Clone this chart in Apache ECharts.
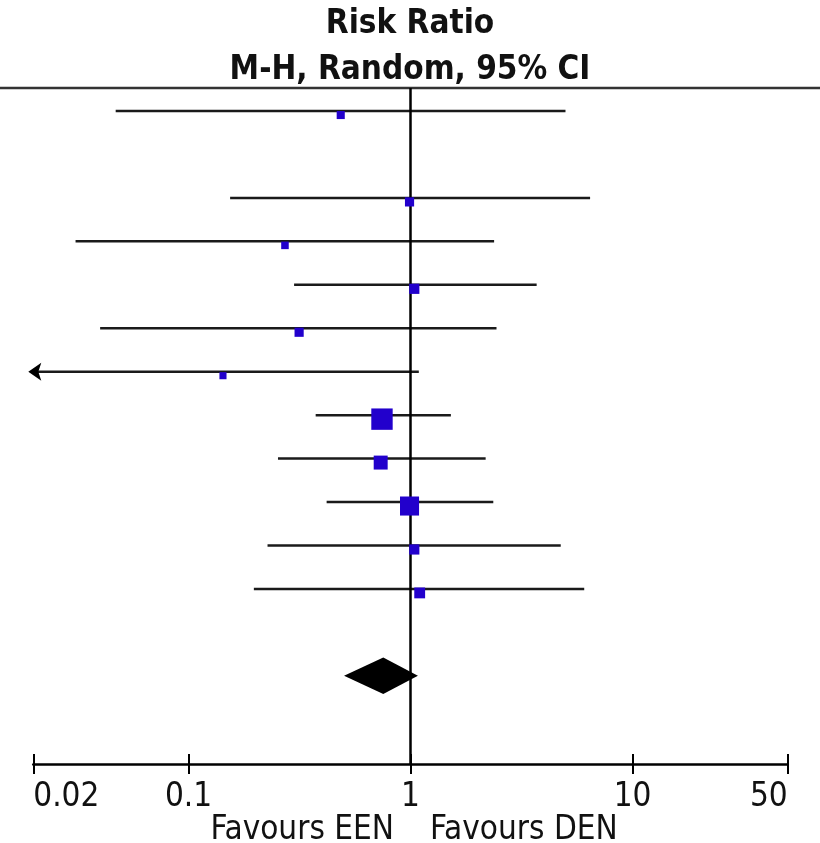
<!DOCTYPE html>
<html>
<head>
<meta charset="utf-8">
<title>Risk Ratio forest plot</title>
<script src="https://cdn.jsdelivr.net/npm/echarts@6/dist/echarts.min.js"></script>
<style>
  html, body { margin: 0; padding: 0; background: #fff; }
  #main { width: 820px; height: 843px; }
</style>
</head>
<body>
<div id="main"></div>
<script>
// study rows, top to bottom (row 2 not estimable)
const rowIndex   = [0, 1, 2, 3, 4, 5, 6, 7, 8, 9, 10, 11];
const riskRatio  = [0.485, null, 0.99, 0.272, 1.04, 0.315, 0.143, 0.744, 0.734, 0.99, 1.04, 1.10];
const ciLower    = [0.047, null, 0.154, 0.031, 0.299, 0.040, 0.019, 0.374, 0.253, 0.419, 0.227, 0.197];
const ciUpper    = [4.99, null, 6.44, 2.38, 3.70, 2.44, 1.09, 1.52, 2.18, 2.36, 4.75, 6.06];
const weights    = [3.9, null, 5.0, 3.4, 6.2, 5.0, 3.0, 27.2, 11.6, 21.6, 6.2, 7.0];

// pooled estimate (diamond)
const pooledRow   = 13;
const pooledRR    = 0.754;
const pooledLower = 0.502;
const pooledUpper = 1.08;

// axis
const tickValues = [0.02, 0.1, 1, 10, 50];
const axisMin = 0.02;
const axisMax = 50;

const FONT = '"DejaVu Sans Condensed", "DejaVu Sans", sans-serif';
const lg = v => Math.log10(v);

let ciData = [];
let squareData = [];
for (let i = 0; i < rowIndex.length; i++) {
    if (riskRatio[i] == null) continue;
    ciData.push([lg(ciLower[i]), lg(ciUpper[i]), rowIndex[i]]);
    squareData.push({
        value: [lg(riskRatio[i]), rowIndex[i]],
        symbolSize: 4.1 * Math.sqrt(weights[i])
    });
}

function renderCI(params, api) {
    const lo = api.value(0), hi = api.value(1), row = api.value(2);
    const minX = lg(axisMin);
    const start = api.coord([Math.max(lo, minX), row]);
    const end = api.coord([hi, row]);
    const children = [];
    let x1 = start[0];
    if (lo < minX) x1 = start[0] + 4;
    children.push({
        type: 'line',
        shape: { x1: x1, y1: start[1], x2: end[0], y2: end[1] },
        style: { stroke: '#1a1a1a', lineWidth: 2.5 }
    });
    if (lo < minX) {
        // arrow: lower limit is off the scale
        const tx = start[0] - 5, y = start[1];
        children.push({
            type: 'polygon',
            shape: { points: [[tx, y], [tx + 13, y - 9], [tx + 10, y], [tx + 13, y + 9]] },
            style: { fill: '#000' }
        });
    }
    return { type: 'group', children: children };
}

function renderDiamond(params, api) {
    const lo = api.coord([api.value(0), api.value(3)]);
    const mid = api.coord([api.value(1), api.value(3)]);
    const hi = api.coord([api.value(2), api.value(3)]);
    const h = api.size([0, 0.42])[1];
    return {
        type: 'polygon',
        shape: { points: [[lo[0], lo[1]], [mid[0], mid[1] - h], [hi[0], hi[1]], [mid[0], mid[1] + h]] },
        style: { fill: '#000' }
    };
}

const tickLog = tickValues.map(lg);

let myChart = echarts.init(document.getElementById('main'));
myChart.setOption({
    animation: false,
    backgroundColor: '#fff',
    title: {
        text: 'Risk Ratio\nM-H, Random, 95% CI',
        left: 'center',
        top: 1,
        padding: 0,
        textStyle: {
            fontFamily: FONT,
            fontWeight: 'bold',
            fontSize: 33,
            lineHeight: 46,
            color: '#111'
        }
    },
    grid: { left: 33.3, right: 32.3, top: 88, bottom: 79 },
    xAxis: [
        {
            type: 'value',
            min: lg(axisMin),
            max: lg(axisMax),
            position: 'bottom',
            splitLine: { show: false },
            axisLine: { show: true, onZero: false, lineStyle: { color: '#000', width: 2.5 } },
            axisTick: {
                show: true, inside: false, length: 10,
                customValues: tickLog,
                lineStyle: { color: '#000', width: 2 }
            },
            axisLabel: {
                customValues: tickLog,
                margin: 17,
                fontFamily: FONT,
                fontSize: 33,
                color: '#111',
                alignMinLabel: 'left',
                alignMaxLabel: 'right',
                formatter: v => String(Number(Math.pow(10, v).toPrecision(6)))
            }
        },
        {
            type: 'value',
            min: lg(axisMin),
            max: lg(axisMax),
            position: 'bottom',
            splitLine: { show: false },
            axisLine: { show: false, onZero: false },
            axisLabel: { show: false },
            axisTick: {
                show: true, inside: true, length: 10,
                customValues: tickLog,
                lineStyle: { color: '#000', width: 2 }
            }
        }
    ],
    yAxis: {
        type: 'value',
        min: -0.53,
        max: 15.03,
        inverse: true,
        show: false
    },
    graphic: [
        {
            type: 'line',
            shape: { x1: 0, y1: 88, x2: 820, y2: 88 },
            style: { stroke: '#333', lineWidth: 2.5 }
        },
        {
            type: 'text',
            right: 820 - 394,
            top: 814,
            style: { text: 'Favours EEN', font: '33px ' + FONT, fill: '#111' }
        },
        {
            type: 'text',
            left: 430,
            top: 814,
            style: { text: 'Favours DEN', font: '33px ' + FONT, fill: '#111' }
        }
    ],
    series: [
        {
            type: 'custom',
            name: 'CI',
            renderItem: renderCI,
            data: ciData,
            z: 2,
            silent: true,
            markLine: {
                silent: true,
                symbol: 'none',
                label: { show: false },
                lineStyle: { color: '#000', width: 2.5, type: 'solid' },
                data: [{ xAxis: 0 }]
            }
        },
        {
            type: 'scatter',
            name: 'Risk ratio',
            symbol: 'rect',
            symbolOffset: [0, 4],
            itemStyle: { color: '#2200cc', opacity: 1 },
            data: squareData,
            z: 5
        },
        {
            type: 'custom',
            name: 'Pooled',
            renderItem: renderDiamond,
            data: [[lg(pooledLower), lg(pooledRR), lg(pooledUpper), pooledRow]],
            z: 4
        }
    ]
});
</script>
</body>
</html>
